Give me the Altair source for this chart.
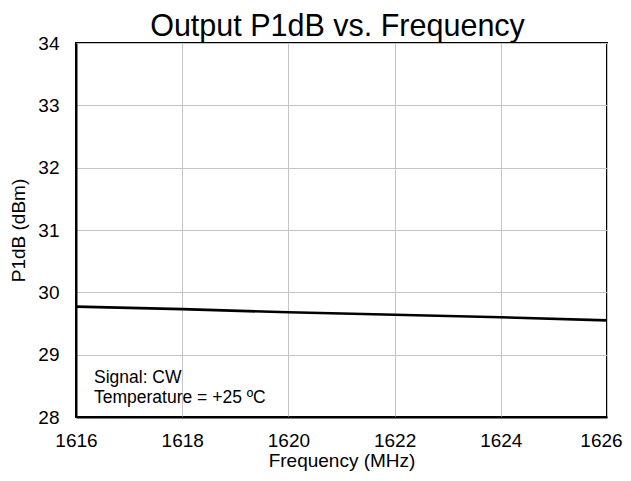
import altair as alt
import pandas as pd

freq = [1616, 1618, 1620, 1622, 1624, 1626]
p1db = [29.77, 29.73, 29.68, 29.64, 29.60, 29.55]
note_text = ["Signal: CW", "Temperature = +25 ºC"]
note_y = [28.62, 28.31]

df = pd.DataFrame({"freq": freq, "p1db": p1db})
notes = pd.DataFrame({"t": note_text, "y": note_y})

FONT = "Liberation Sans"

line = alt.Chart(df).mark_line(color="black", strokeWidth=2.6).encode(
    x=alt.X("freq:Q", scale=alt.Scale(domain=[1616, 1626], nice=False),
            axis=alt.Axis(values=[1616, 1618, 1620, 1622, 1624, 1626], title="Frequency (MHz)",
                          format="d", labelFlush=False,
                          labelOffset={"expr": "datum.value == 1626 ? -6 : 0"})),
    y=alt.Y("p1db:Q", scale=alt.Scale(domain=[28, 34], nice=False, zero=False),
            axis=alt.Axis(values=[28, 29, 30, 31, 32, 33, 34], title="P1dB (dBm)",
                          format="d", labelFlush=False)),
)

txt = alt.Chart(notes).mark_text(align="left", baseline="middle", fontSize=17.5, font=FONT,
                                 color="black").encode(
    x=alt.value(18),
    y=alt.Y("y:Q"),
    text="t:N",
)

chart = (line + txt).properties(
    width=531, height=374,
    title=alt.TitleParams("Output P1dB vs. Frequency", fontSize=30.5, font=FONT,
                          fontWeight="normal", color="black", offset=-8, dx=-4),
    autosize=alt.AutoSizeParams(type="none"),
    padding={"left": 68, "top": 35, "right": 16, "bottom": 56},
).configure_view(stroke="black", strokeWidth=2).configure_axis(
    labelFont=FONT, titleFont=FONT, labelFontSize=19, titleFontSize=19,
    labelColor="black", titleColor="black", titleFontWeight="normal",
    grid=True, gridColor="#c4c4c4", gridWidth=1,
    domainColor="black", domainWidth=2, ticks=False,
).configure_axisX(labelPadding=14, titlePadding=1).configure_axisY(
    labelPadding=17, titlePadding=9)

chart.save("out.html", embed_options={"renderer": "svg", "actions": False})
